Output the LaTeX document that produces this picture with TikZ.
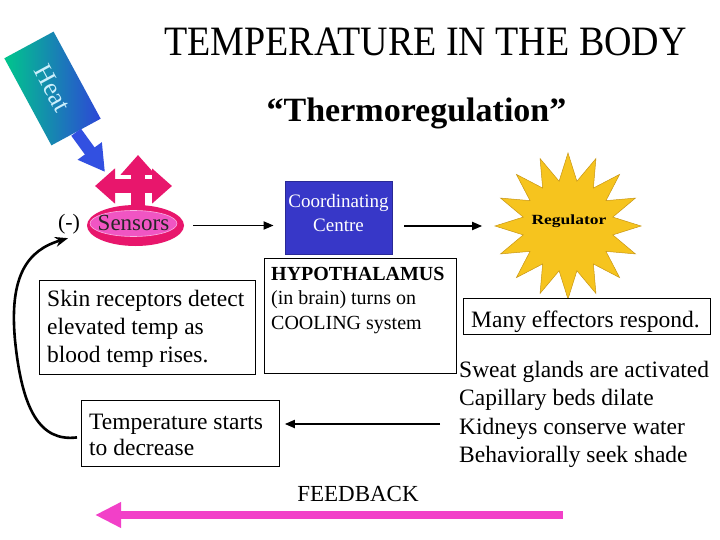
\documentclass[tikz,border=0pt]{standalone}
\usepackage{fontspec}
\setmainfont{Liberation Serif}
\usetikzlibrary{arrows.meta,shapes.geometric,calc}
\definecolor{heatgreen}{RGB}{0,198,140}
\definecolor{heatblue}{RGB}{45,70,215}
\definecolor{arrowblue}{RGB}{50,80,225}
\definecolor{sensred}{RGB}{232,22,108}
\definecolor{senspink}{RGB}{240,85,195}
\definecolor{coordblue}{RGB}{55,55,200}
\definecolor{stargold}{RGB}{246,196,30}
\definecolor{starline}{RGB}{200,150,20}
\definecolor{fbpink}{RGB}{242,64,200}
\begin{document}
\begin{tikzpicture}[x=1pt,y=-1pt,
  box/.style={draw=black, line width=0.8pt, inner sep=0pt},
  txt/.style={inner sep=0pt, align=left, anchor=north west},
  conn/.style={line width=1.8pt, -{Triangle[width=8pt,length=10pt]}},
  crossarr/.style={sensred, line width=14pt, -{Triangle[width=34pt,length=20pt]}},
]
\useasboundingbox (0,0) rectangle (720,540);
\fill[white] (0,0) rectangle (720,540);

% titles
\node[anchor=base, inner sep=0pt] (title) at (425.5,56)
  {\scalebox{1}[1.1]{\fontsize{38}{38}\selectfont TEMPERATURE IN THE BODY}};
\node[anchor=base, inner sep=0pt, font=\fontsize{34}{34}\selectfont\bfseries] (subtitle) at (416.5,122) {“Thermoregulation”};

% heat
\node[rotate=-61.6, minimum width=99pt, minimum height=56pt, inner sep=0pt,
  left color=heatgreen, right color=heatblue,
  font=\fontsize{26}{26}\selectfont, text=white!80!cyan] (heat) at (52.5,88.5) {Heat};
\coordinate (heattip) at (105,172);
\draw[arrowblue, line width=12pt, -{Triangle[width=28pt,length=26pt]}] (heat.east) -- (heattip);

% sensors
\draw[crossarr] (138,206) -- (138,155);
\draw[crossarr] (138,186) -- (95,186);
\draw[crossarr] (138,186) -- (172,186);
\node[ellipse, fill=sensred, minimum width=97pt, minimum height=41pt, inner sep=0pt] (sensors) at (135.5,225.5) {};
\node[ellipse, fill=senspink, draw=white!55!senspink, line width=0.6pt, minimum width=87pt, minimum height=26pt, inner sep=0pt] (sensin) at (133.5,223.5) {};
\node[anchor=base, inner sep=0pt, font=\fontsize{23}{23}\selectfont, text=black!85] (senstxt) at (133.5,230.5) {Sensors};
\node[inner sep=0pt, font=\fontsize{22}{22}\selectfont] (minus) at (69,224) {(-)};

% coordinating centre
\node[fill=coordblue, draw=coordblue!75!black, line width=0.8pt, minimum width=107pt, minimum height=73pt, inner sep=0pt] (coord) at (338.5,217.5) {};
\node[inner sep=0pt, align=center, text=white, font=\fontsize{19}{24.4}\selectfont] (coordtxt) at (338.5,213) {Coordinating\\Centre};

% regulator
\node[star, star points=16, star point ratio=1.6, minimum size=146pt, inner sep=0pt,
  fill=stargold, draw=starline, line width=0.5pt] (reg) at (568,226) {};
\node[inner sep=0pt] (regtxt) at (569,221)
  {\scalebox{1.25}[1]{\fontsize{14}{14}\selectfont\bfseries Regulator}};

% arrows along the top
\draw[conn, shorten <=9pt, shorten >=11pt] (sensors.east) -- (sensors.east -| coord.west);
\coordinate (c2) at ($(coord.east)+(0,8.5)$);
\draw[conn, shorten <=12pt, shorten >=12pt] (c2) -- (c2 -| reg.west);

% boxes
\node[box, minimum width=216pt, minimum height=94pt, anchor=north west] (skin) at (39,280) {};
\node[txt, font=\fontsize{23.5}{28}\selectfont] (skintxt) at (47,290)
  {Skin receptors detect\\elevated temp as\\blood temp rises.};

\node[box, minimum width=192pt, minimum height=115pt, anchor=north west] (hypo) at (264,258) {};
\node[txt, font=\fontsize{20}{24.5}\selectfont] (hypotxt) at (271,266.8)
  {\textbf{HYPOTHALAMUS}\\(in brain) turns on\\COOLING system};

\node[box, fill=white, minimum width=247pt, minimum height=36pt, anchor=north west] (many) at (463,298) {};
\node[txt, font=\fontsize{23.5}{28}\selectfont] (manytxt) at (471,311) {Many effectors respond.};

\node[txt, font=\fontsize{23.5}{28.3}\selectfont] (sweat) at (459,361)
  {Sweat glands are activated\\Capillary beds dilate\\Kidneys conserve water\\Behaviorally seek shade};

\node[box, minimum width=198pt, minimum height=66pt, anchor=north west] (temp) at (81,400) {};
\node[txt, font=\fontsize{23.5}{26}\selectfont] (temptxt) at (89,413.5)
  {Temperature starts\\to decrease};

% effectors -> temperature
\coordinate (fbstart) at (440,424);
\draw[conn, shorten >=5pt] (fbstart) -- (fbstart -| temp.east);

% loop back to sensors
\coordinate (loopstart) at ($(temp.west)+(-4,4)$);
\coordinate (loopend) at ($(minus.south)+(-1,4)$);
\draw[line width=2.6pt, -{Stealth[length=13pt,width=10pt]}]
  (loopstart) .. controls (40,442) and (22,410) .. (15,340)
  .. controls (9,275) and (28,250) .. (loopend);

% feedback
\node[anchor=base, inner sep=0pt, font=\fontsize{23}{23}\selectfont] (fb) at (358,501) {FEEDBACK};
\coordinate (fbR) at (563,515);
\coordinate (fbL) at (95,515);
\draw[fbpink, line width=8pt, -{Triangle[width=24pt,length=26pt]}] (fbR) -- (fbL);
\end{tikzpicture}
\end{document}
